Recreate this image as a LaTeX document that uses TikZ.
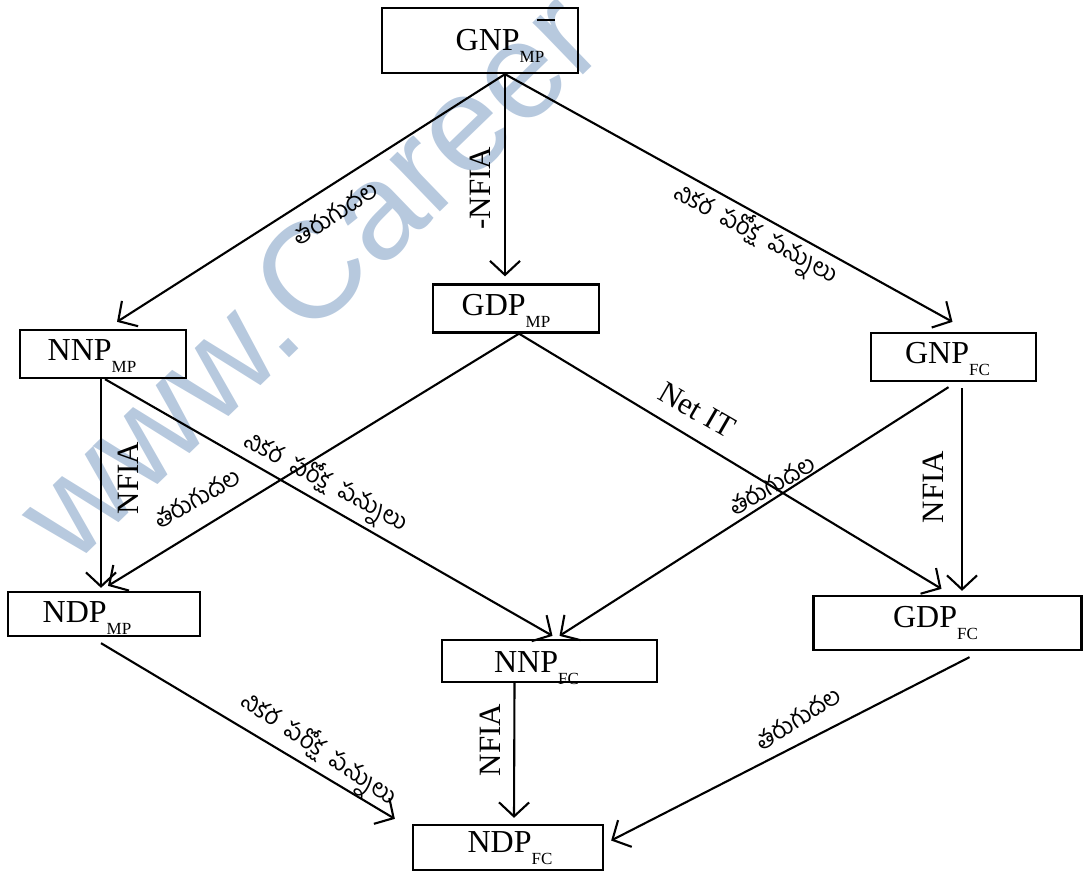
\documentclass[tikz,border=0pt]{standalone}
\usepackage{fontspec}
\setmainfont{Liberation Serif}
\newfontfamily\telugu[Script=Telugu]{Hind Guntur}
\newfontfamily\wmfont{Liberation Sans}
\usetikzlibrary{arrows.meta}
\definecolor{wm}{RGB}{183,201,222}
% #1 main, #2 subscript, #3 horizontal offset, #4 baseline below centre
\newcommand{\lbl}[4]{\raisebox{-#4}[0pt][0pt]{\makebox[0pt]{\hspace*{#3}\hspace*{#3}#1\raisebox{-0.38em}{\fontsize{17}{17}\selectfont #2}}}}
\begin{document}
\begin{tikzpicture}[x=1pt,y=-1pt,
  box/.style={draw, line width=2.3pt, inner sep=0pt, font=\fontsize{32}{32}\selectfont},
  conn/.style={line width=2.1pt, -{Straight Barb[length=14pt,width=30pt,line width=2.1pt]}},
  tel/.style={font=\telugu\fontsize{24}{24}\selectfont, inner sep=0pt},
  lat/.style={font=\fontsize{31}{31}\selectfont, inner sep=0pt}]
\useasboundingbox (0,0) rectangle (1083,871);
% watermark
\node[text=wm, font=\wmfont\fontsize{137}{137}\selectfont, rotate=44, anchor=base west] (wmark) at (70,570) {www.Career};
% boxes
\node[box, minimum width=196pt, minimum height=65pt] (gnpmp) at (480,40.5) {\lbl{GNP}{MP}{20pt}{9.5pt}};
\node[box, minimum width=166pt, minimum height=48pt] (gdpmp) at (516,308.5) {\lbl{GDP}{MP}{-10pt}{6.5pt}};
\node[box, minimum width=166pt, minimum height=48pt] (nnpmp) at (103,354) {\lbl{NNP}{MP}{-11pt}{6pt}};
\node[box, minimum width=165pt, minimum height=48pt] (gnpfc) at (953.5,357) {\lbl{GNP}{FC}{-6pt}{6pt}};
\node[box, minimum width=192pt, minimum height=44pt] (ndpmp) at (104,614) {\lbl{NDP}{MP}{-17pt}{8.5pt}};
\node[box, minimum width=215pt, minimum height=42pt] (nnpfc) at (549.5,661) {\lbl{NNP}{FC}{-13pt}{11.5pt}};
\node[box, minimum width=268pt, minimum height=54pt] (gdpfc) at (947.5,623) {\lbl{GDP}{FC}{-12pt}{4.6pt}};
\node[box, minimum width=190pt, minimum height=45pt] (ndpfc) at (508,847.5) {\lbl{NDP}{FC}{2pt}{4.6pt}};
\draw[line width=2.3pt] ([xshift=57pt,yshift=-13pt]gnpmp.north) -- ([xshift=75pt,yshift=-13pt]gnpmp.north);
% connectors
\draw[conn] ([xshift=25pt]gnpmp.south) -- ([xshift=14pt,yshift=7pt]nnpmp.north);
\draw[conn] ([xshift=25pt]gnpmp.south) -- ([xshift=-11pt,yshift=7pt]gdpmp.north);
\draw[conn] ([xshift=25pt]gnpmp.south) -- ([xshift=-1pt,yshift=10pt]gnpfc.north);
\draw[conn] ([xshift=3pt]gdpmp.south) -- ([xshift=4pt,yshift=5pt]ndpmp.north);
\draw[conn] ([xshift=3pt]gdpmp.south) -- ([xshift=-6pt,yshift=6pt]gdpfc.north);
\draw[conn] ([xshift=-2pt]nnpmp.south) -- ([xshift=-3pt,yshift=3pt]ndpmp.north);
\draw[conn] ([xshift=2pt]nnpmp.south) -- ([xshift=3pt,yshift=3pt]nnpfc.north);
\draw[conn] ([xshift=-5pt,yshift=-5pt]gnpfc.south) -- ([xshift=10pt,yshift=3pt]nnpfc.north);
\draw[conn] ([xshift=8.5pt,yshift=-6pt]gnpfc.south) -- ([xshift=14.5pt,yshift=4pt]gdpfc.north);
\draw[conn] ([xshift=-3pt,yshift=-6pt]ndpmp.south) -- ([xshift=-17pt,yshift=5pt]ndpfc.north west);
\draw[conn] ([xshift=-35pt]nnpfc.south) -- ([xshift=6pt,yshift=6pt]ndpfc.north);
\draw[conn] ([xshift=22pt,yshift=-6pt]gdpfc.south) -- ([xshift=7pt,yshift=7pt]ndpfc.east);
% labels
\node[tel, rotate=33] (l1) at (335,213) {తరుగుదల};
\node[lat, rotate=90] (l2) at (480,188) {-NFIA};
\node[tel, rotate=-28] (l3) at (755,235) {నికర\hspace{6pt} పరోక్ష\hspace{6pt} పన్నులు};
\node[lat, rotate=-30] (l4) at (697,410) {Net IT};
\node[lat, rotate=90] (l5) at (128,478) {NFIA};
\node[tel, rotate=30] (l6) at (197,498) {తరుగుదల};
\node[tel, rotate=-28] (l7) at (325,483) {నికర\hspace{6pt} పరోక్ష\hspace{6pt} పన్నులు};
\node[tel, rotate=30] (l8) at (772,485) {తరుగుదల};
\node[lat, rotate=90] (l9) at (933,487) {NFIA};
\node[tel, rotate=-34] (l10) at (318,750) {నికర\hspace{6pt} పరోక్ష\hspace{6pt} పన్నులు};
\node[lat, rotate=90] (l11) at (490,740) {NFIA};
\node[tel, rotate=32] (l12) at (798,718) {తరుగుదల};
\end{tikzpicture}
\end{document}
